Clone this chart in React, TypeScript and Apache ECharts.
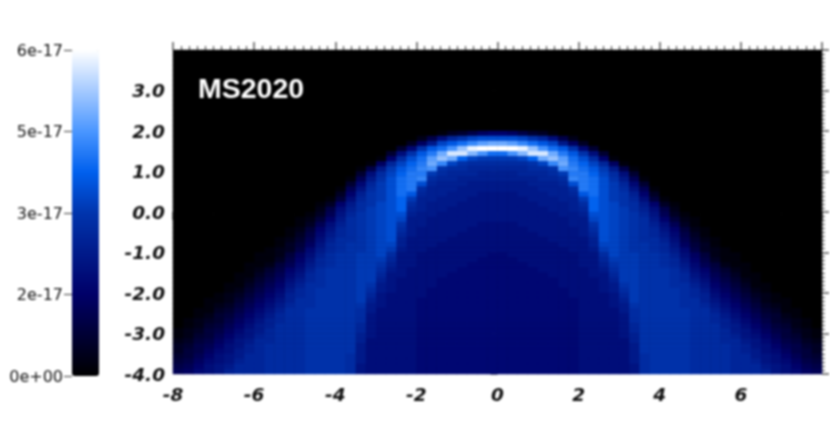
import React, { useEffect, useRef } from "react";
import * as echarts from "echarts";

// Intensity, in levels 0-9a-z (0 = black, z = white at 6e-17).
// The picture is mirror-symmetric about x = 0, so each row holds |x| = 0.125, 0.375 ... 7.875.
// Rows run from y = 3.9375 down to y = -3.9375; a short row continues with black.
const halfRows: string[] = [
  "0","0","0","0","0","0","0","0","0","0","0","0","0","0","0","0",
  "986431",
  "kkjhfb62",
  "srpnljd83",
  "zzyuqnlha4",
  "nqtxxsolhb4",
  "iijmsurnkg91",
  "ggghjpsomjf81",
  "fffgghqpnlid61",
  "eefffgioomjgb4",
  "eeeeffgponkhd71",
  "dddeeefkonkifa4",
  "ddddeeegonkigc71",
  "ccdddeeflnkihe93",
  "cccdddeeimkihfb51",
  "ccccdddegmkjhgd931",
  "cccccddefmkjigeb62",
  "ccccccddekkjihfc731",
  "cccccccddjkjihgd9521",
  "bbcccccddhkjihgeb731",
  "bbbcccccdgkjihgfc9521",
  "bbbbccccdfkjihgfda631",
  "bbbbbccccekjihggeb7421",
  "bbbbbbcccejjihhgfc8531",
  "bbbbbbbccdijihhgfda6321",
  "abbbbbbbccgjiihhgeb85211",
  "aabbbbbbccfiiihhgfc96311",
  "aaabbbbbccehiihhgfda75211",
  "aaaabbbbbcdgiihhhgeb96421",
  "aaaaabbbbccfiihhhgfca75311",
  "aaaaaabbbbceiihhhgfdb86421",
  "aaaaaabbbbcdhihhhggec975311",
  "aaaaaaabbbcdgihhhhgfda86421",
  "aaaaaaabbbbcfihhhhgfeb975321",
  "aaaaaaaabbbceihhhhggeca864211",
  "aaaaaaaabbbcdhhhhhggfdb975321",
  "aaaaaaaabbbbdghhhhhggeca864311",
  "aaaaaaaabbbbcghhhhhggfdb975421",
  "aaaaaaaabbbbcghhhhhggfeca864321",
  "aaaaaaaabbbbcfhhhhhgggedb975421",
  "aaaaaaaabbbbcfhhhhhgggfdca865321",
  "aaaaaaaabbbbcehhhhhgggfecb975421",
  "aaaaaaaabbbbbehhhhhgggffdca86532",
  "aaaaaaaabbbbbdhhhhhggggfecb97643",
  "aaaaaaaabbbbbdhhhhhggggfedba8653",
  "aaaaaaaabbbbbdghhhhggggffdcb9754",
  "aaaaaaaabbbbbdghhhhggggffecba865",
  "aaaaaaaabbbbbcghhhhggggfffdcb976",
  "aaaaaaaabbbbbcghhhhggggfffecba87",
];

const colorStops = ["#000000", "#000034", "#000068", "#001a8a", "#0034ad", "#0060ee", "#4a96ff", "#a5caff", "#ffffff"];
const colorbarTickLabels = ["0e+00", "2e-17", "3e-17", "5e-17", "6e-17"];
const titleText = "MS2020";

const halfColumns = 32;
const maxLevel = 35;
const maxValue = 6; // in units of 1e-17

const xCategories: number[] = [];
for (let c = 0; c < halfColumns * 2; c++) xCategories.push(c);
const yCategories: number[] = [];
for (let r = 0; r < halfRows.length; r++) yCategories.push(r);

const cells: number[][] = [];
halfRows.forEach((row, i) => {
  for (let j = 0; j < halfColumns; j++) {
    const level = j < row.length ? parseInt(row[j], 36) : 0;
    const value = (level / maxLevel) * maxValue;
    const yIdx = halfRows.length - 1 - i;
    cells.push([halfColumns + j, yIdx, value]);
    cells.push([halfColumns - 1 - j, yIdx, value]);
  }
});

const tickColor = "#555555";
const labelFont = { fontFamily: "DejaVu Sans", fontWeight: "bold" as const, fontStyle: "italic" as const, fontSize: 18.5, color: "#111111" };

function valueAxisBase(min: number, max: number, interval: number, tickLen: number, minorLen: number) {
  return {
    type: "value" as const,
    min,
    max,
    interval,
    gridIndex: 0,
    splitLine: { show: false },
    axisLine: { show: false },
    axisTick: { show: true, length: tickLen, lineStyle: { color: tickColor, width: 1.5 } },
    minorTick: { show: true, splitNumber: 10, length: minorLen, lineStyle: { color: tickColor, width: 1.2 } },
    minorSplitLine: { show: false },
  };
}

export default function App() {
  const ref = useRef<HTMLDivElement>(null);
  useEffect(() => {
    if (!ref.current) return;
    const chart = echarts.init(ref.current, undefined, { renderer: "svg" });
    chart.setOption({
      animation: false,
      backgroundColor: "#ffffff",
      title: {
        text: titleText,
        left: 193,
        top: 68,
        textStyle: { color: "#ffffff", fontFamily: "Liberation Sans", fontWeight: "bold", fontSize: 28.5 },
      },
      grid: [
        { left: 173, top: 50, width: 649, height: 324, containLabel: false, show: true, backgroundColor: "#000000", borderWidth: 0 },
        { left: 72, top: 50, width: 27, height: 326, containLabel: false },
      ],
      xAxis: [
        { type: "category", data: xCategories, show: false, gridIndex: 0 },
        {
          ...valueAxisBase(-8, 8, 2, 8, 4),
          position: "bottom",
          axisLabel: { ...labelFont, margin: 11, formatter: (v: number) => (v === 8 ? "" : String(v)) },
        },
        { ...valueAxisBase(-8, 8, 2, 8, 4), position: "top", axisLabel: { show: false } },
        { type: "value", min: 0, max: 1, show: false, gridIndex: 1 },
      ],
      yAxis: [
        { type: "category", data: yCategories, show: false, gridIndex: 0 },
        {
          ...valueAxisBase(-4, 4, 1, 7, 3),
          position: "left",
          axisLabel: { ...labelFont, margin: 8, formatter: (v: number) => (v === 4 ? "" : v.toFixed(1)) },
        },
        { ...valueAxisBase(-4, 4, 1, 7, 3), position: "right", axisLabel: { show: false } },
        {
          type: "value",
          min: 0,
          max: maxValue,
          interval: 1.5,
          gridIndex: 1,
          position: "left",
          splitLine: { show: false },
          axisLine: { show: false },
          axisTick: { show: true, length: 8, lineStyle: { color: tickColor, width: 1.2 } },
          axisLabel: {
            margin: 9,
            fontFamily: "DejaVu Sans",
            fontSize: 16,
            color: "#111111",
            formatter: (v: number) => colorbarTickLabels[Math.round(v / 1.5)],
          },
        },
      ],
      visualMap: {
        type: "continuous",
        seriesIndex: 0,
        min: 0,
        max: maxValue,
        left: 57,
        top: 35,
        itemWidth: 27,
        itemHeight: 326,
        calculable: false,
        hoverLink: false,
        inRange: { color: colorStops },
      },
      series: [
        {
          type: "heatmap",
          xAxisIndex: 0,
          yAxisIndex: 0,
          data: cells,
          silent: true,
          progressive: 0,
          emphasis: { disabled: true },
        },
      ],
    });
    return () => chart.dispose();
  }, []);
  return (
    <div
      ref={ref}
      style={{ position: "absolute", left: 0, top: 0, width: 830, height: 423, filter: "blur(1.3px)" }}
    />
  );
}
